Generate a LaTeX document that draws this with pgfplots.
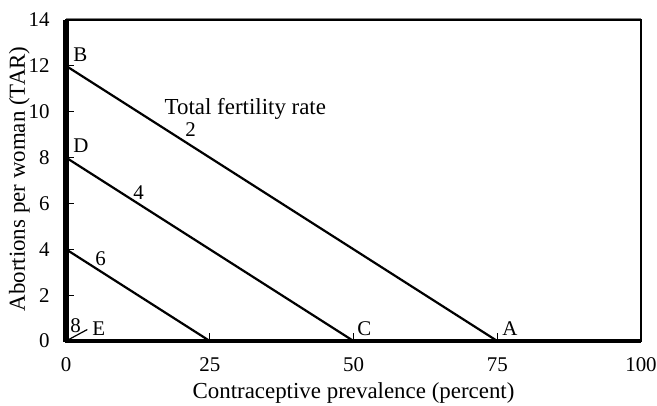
\documentclass[border=0pt]{standalone}
\usepackage{fontspec}
\setmainfont{Liberation Serif}
\usepackage{pgfplots}
\pgfplotsset{compat=1.18}
\begin{document}
\fontsize{10.5}{12.6}\selectfont
\begin{tikzpicture}
\begin{axis}[
  scale only axis,
  width=287.5bp, height=160.5bp,
  xmin=0, xmax=100, ymin=0, ymax=14,
  xtick={0,25,50,75,100},
  ytick={0,2,4,6,8,10,12,14},
  xtick pos=bottom, ytick pos=left,
  tick align=inside,
  major tick length=4bp,
  tick style={black, line width=0.6bp},
  axis line style={black, line width=1bp},
  /pgf/number format/assume math mode=true,
  tick label style={font=\fontsize{10.5}{12.6}\selectfont},
  label style={font=\fontsize{11.5}{13.8}\selectfont},
  xticklabel style={yshift=-4.5bp},
  yticklabel style={xshift=-4.5bp},
  xlabel={Contraceptive prevalence (percent)},
  ylabel={Abortions per woman (TAR)},
  xlabel style={at={(axis description cs:0.5,-0.1776)}, anchor=base},
  ylabel style={at={(axis description cs:-0.0713,0.505)}, anchor=base},
  clip=false,
]
\addplot[black, line width=1.1bp] coordinates {(0,12) (75,0)};
\addplot[black, line width=1.1bp] coordinates {(0,8) (50,0)};
\addplot[black, line width=1.1bp] coordinates {(0,4) (25,0)};
\addplot[black, line width=0.6bp] coordinates {(0,0) (3.7,0.5)};
\draw[gray, line width=0.6bp] ([yshift=0.6bp]rel axis cs:0,1) -- ([yshift=0.6bp]rel axis cs:1,1);
\draw[black, line width=2.5bp] (axis cs:0,-0.05) -- (axis cs:0,14);
\draw[black, line width=2bp] (axis cs:-0.2,0) -- (axis cs:100,0);
\node[anchor=base west, inner sep=0] at (axis cs:1.2,12.17) {B};
\node[anchor=base west, inner sep=0] at (axis cs:1.2,8.24) {D};
\node[anchor=base west, inner sep=0] at (axis cs:4.5,0.26) {E};
\node[anchor=base west, inner sep=0] at (axis cs:0.7,0.39) {8};
\node[anchor=base west, inner sep=0] at (axis cs:5.04,3.31) {6};
\node[anchor=base west, inner sep=0] at (axis cs:11.65,6.19) {4};
\node[anchor=base west, inner sep=0] at (axis cs:20.7,8.9) {2};
\node[anchor=base west, inner sep=0, font=\fontsize{11.5}{13.8}\selectfont] at (axis cs:17.1,9.9) {Total fertility rate};
\node[anchor=base west, inner sep=0] at (axis cs:50.6,0.26) {C};
\node[anchor=base west, inner sep=0] at (axis cs:75.8,0.26) {A};
\coordinate (ll) at (rel axis cs:0,0);
\coordinate (ur) at (rel axis cs:1,1);
\end{axis}
\pgfresetboundingbox
\path ([xshift=-33bp,yshift=-32.5bp]ll) rectangle ([xshift=8bp,yshift=10bp]ur);
\end{tikzpicture}
\end{document}
